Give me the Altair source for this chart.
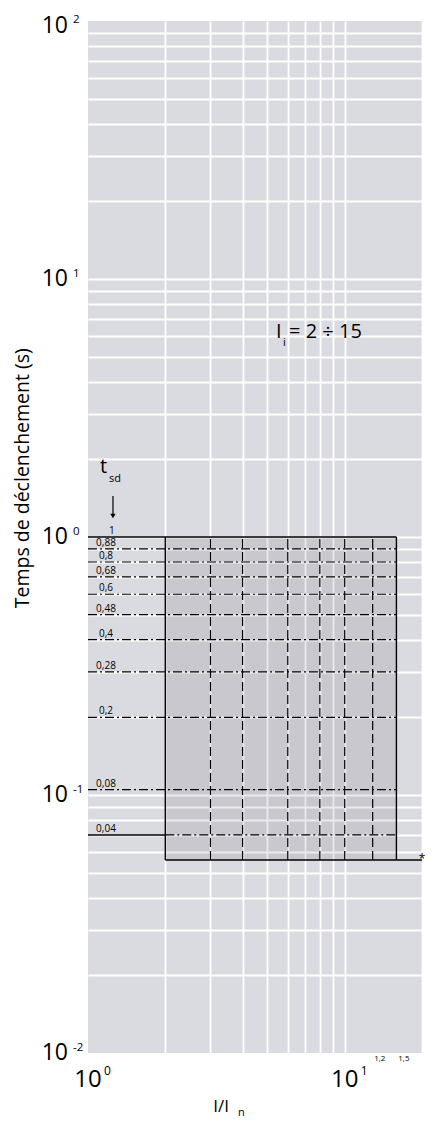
import altair as alt
import pandas as pd

# ---- data ----
x_grid = [2, 3, 4, 5, 6, 7, 8, 9, 10, 20]
y_grid = [0.02, 0.03, 0.04, 0.05, 0.06, 0.07, 0.08, 0.09, 0.1,
          0.2, 0.3, 0.4, 0.5, 0.6, 0.7, 0.8, 0.9, 1,
          2, 3, 4, 5, 6, 7, 8, 9, 10,
          20, 30, 40, 50, 60, 70, 80, 90]

tsd_values = [0.9, 0.8, 0.7, 0.6, 0.5, 0.4, 0.3, 0.2, 0.105, 0.07]
tsd_labels = ["0,88", "0,8", "0,68", "0,6", "0,48", "0,4", "0,28", "0,2", "0,08", "0,04"]
ii_values = [3, 4, 6, 8, 10, 12.85]

box_x = [2, 15.9]
box_y = [0.056, 1.0]
x_min, x_max = 1, 20
y_min, y_max = 0.01, 100

# positions of the "10^k" labels on the y side (top one sits just inside the page)
y_label_pos = [96, 10, 1, 0.1, 0.01]
y_exps = ["2", "1", "0", "-1", "-2"]
x_decades = [1, 10]
x_exps = ["0", "1"]

FONT = "Open Sans"

xs = alt.Scale(type="log", domain=[x_min, x_max], nice=False)
ys = alt.Scale(type="log", domain=[y_min, y_max], nice=False)
xax = alt.Axis(values=x_grid, grid=True, gridColor="white", gridWidth=1.8, gridOpacity=1,
               labels=False, ticks=False, domain=False)
yax = alt.Axis(values=y_grid, grid=True, gridColor="white", gridWidth=1.8, gridOpacity=1,
               labels=False, ticks=False, domain=False)


def X(f="x"):
    return alt.X(f"{f}:Q", scale=xs, axis=xax, title=None)


def Y(f="y"):
    return alt.Y(f"{f}:Q", scale=ys, axis=yax, title=None)


# box
box = alt.Chart(pd.DataFrame({"x": [box_x[0]], "x2": [box_x[1]], "y": [box_y[0]], "y2": [box_y[1]]})).mark_rect(
    color="#2a1030", opacity=0.09).encode(x=X(), x2="x2:Q", y=Y(), y2="y2:Q")

# solid segments
solid_df = pd.DataFrame([
    {"x": x_min, "x2": box_x[1], "y": box_y[1], "y2": box_y[1]},   # top line y=1
    {"x": box_x[0], "x2": x_max, "y": box_y[0], "y2": box_y[0]},   # bottom line
    {"x": x_min, "x2": box_x[0], "y": tsd_values[-1], "y2": tsd_values[-1]},  # 0,04 left part
    {"x": box_x[0], "x2": box_x[0], "y": box_y[0], "y2": box_y[1]},  # left edge
    {"x": box_x[1], "x2": box_x[1], "y": box_y[0], "y2": box_y[1]},  # right edge
])
solid = alt.Chart(solid_df).mark_rule(color="black", strokeWidth=1.4).encode(
    x=X(), x2="x2:Q", y=Y(), y2="y2:Q")

# dash-dot horizontal lines
dd_rows = []
for v in tsd_values[:-1]:
    dd_rows.append({"x": x_min, "x2": box_x[1], "y": v})
dd_rows.append({"x": box_x[0], "x2": box_x[1], "y": tsd_values[-1]})
dashdot = alt.Chart(pd.DataFrame(dd_rows)).mark_rule(
    color="black", strokeWidth=1.2, strokeDash=[9, 3, 2, 3]).encode(x=X(), x2="x2:Q", y=Y())

# dashed vertical lines
dv = pd.DataFrame({"x": ii_values, "y": [box_y[0]] * len(ii_values), "y2": [box_y[1]] * len(ii_values)})
dashed = alt.Chart(dv).mark_rule(color="black", strokeWidth=1.2, strokeDash=[9, 4]).encode(
    x=X(), y=Y(), y2="y2:Q")

# tsd labels
tl = pd.DataFrame({"x": [1.24] + [1.175] * len(tsd_labels), "y": [1.0] + tsd_values,
                   "t": ["1"] + tsd_labels})
tsd_text = alt.Chart(tl).mark_text(font=FONT, fontSize=10, align="center", baseline="alphabetic",
                                   dy=-3, color="black").encode(x=X(), y=Y(), text="t:N")

# t_sd marker
t_big = alt.Chart(pd.DataFrame({"x": [1.114], "y": [1.77], "t": ["t"]})).mark_text(
    font=FONT, fontSize=20, align="left", baseline="alphabetic").encode(x=X(), y=Y(), text="t:N")
t_sub = alt.Chart(pd.DataFrame({"x": [1.207], "y": [1.638], "t": ["sd"]})).mark_text(
    font=FONT, fontSize=11, align="left", baseline="alphabetic").encode(x=X(), y=Y(), text="t:N")
arrow_line = alt.Chart(pd.DataFrame({"x": [1.251], "y": [1.442], "y2": [1.22]})).mark_rule(
    color="black", strokeWidth=1.2).encode(x=X(), y=Y(), y2="y2:Q")
arrow_head = alt.Chart(pd.DataFrame({"x": [1.251], "y": [1.206]})).mark_point(
    shape="triangle-down", filled=True, color="black", size=28, opacity=1).encode(x=X(), y=Y())

# Ii label
ii_I = alt.Chart(pd.DataFrame({"x": [5.40], "y": [5.91], "t": ["I"]})).mark_text(
    font=FONT, fontSize=20, align="left", baseline="alphabetic").encode(x=X(), y=Y(), text="t:N")
ii_i = alt.Chart(pd.DataFrame({"x": [5.75], "y": [5.50], "t": ["i"]})).mark_text(
    font=FONT, fontSize=11, align="left", baseline="alphabetic").encode(x=X(), y=Y(), text="t:N")
ii_rest = alt.Chart(pd.DataFrame({"x": [6.07], "y": [5.91], "t": ["= 2 ÷ 15"]})).mark_text(
    font=FONT, fontSize=20, align="left", baseline="alphabetic").encode(x=X(), y=Y(), text="t:N")

# axis labels (10^k)
ylab = pd.DataFrame({"x": [0.836] * 5, "y": y_label_pos, "t": ["10"] * 5})
ylab_t = alt.Chart(ylab).mark_text(font=FONT, fontSize=23, align="right", baseline="middle").encode(
    x=X(), y=Y(), text="t:N")
yexp = pd.DataFrame({"x": [0.874] * 5, "y": y_label_pos, "t": y_exps})
yexp_t = alt.Chart(yexp).mark_text(font=FONT, fontSize=11.5, align="left", baseline="middle", dy=-5.5).encode(
    x=X(), y=Y(), text="t:N")
xlab = pd.DataFrame({"x": x_decades, "y": [0.00786] * 2, "t": ["10"] * 2})
xlab_t = alt.Chart(xlab).mark_text(font=FONT, fontSize=24, align="center", baseline="middle").encode(
    x=X(), y=Y(), text="t:N")
xexp = pd.DataFrame({"x": [1.154, 11.54], "y": [0.00851] * 2, "t": x_exps})
xexp_t = alt.Chart(xexp).mark_text(font=FONT, fontSize=12, align="left", baseline="middle").encode(
    x=X(), y=Y(), text="t:N")

# small 1,2 / 1,5 marks and *
small = pd.DataFrame({"x": [13.7, 17.0], "y": [0.0093] * 2, "t": ["1,2", "1,5"]})
small_t = alt.Chart(small).mark_text(font=FONT, fontSize=8, align="center", baseline="alphabetic").encode(
    x=X(), y=Y(), text="t:N")
star = alt.Chart(pd.DataFrame({"x": [20.0], "y": [0.0566], "t": ["*"]})).mark_text(
    font=FONT, fontSize=12, align="center", baseline="middle").encode(x=X(), y=Y(), text="t:N")

# titles
xt1 = alt.Chart(pd.DataFrame({"x": [3.30], "y": [0.00591], "t": ["I/I"]})).mark_text(
    font=FONT, fontSize=17, align="center", baseline="alphabetic").encode(x=X(), y=Y(), text="t:N")
xt2 = alt.Chart(pd.DataFrame({"x": [3.84], "y": [0.00570], "t": ["n"]})).mark_text(
    font=FONT, fontSize=11, align="left", baseline="alphabetic").encode(x=X(), y=Y(), text="t:N")
yt = alt.Chart(pd.DataFrame({"x": [0.56], "y": [1.69], "t": ["Temps de déclenchement (s)"]})).mark_text(
    font=FONT, fontSize=19.5, align="center", baseline="middle", angle=270).encode(x=X(), y=Y(), text="t:N")

chart = alt.layer(
    box, dashdot, dashed, solid, tsd_text, t_big, t_sub, arrow_line, arrow_head,
    ii_I, ii_i, ii_rest, ylab_t, yexp_t, xlab_t, xexp_t, small_t, star, xt1, xt2, yt
).properties(
    width=334, height=1032,
    autosize=alt.AutoSizeParams(type="none"),
    padding={"left": 80, "top": 13, "right": 4, "bottom": 65},
    background="white",
).configure_view(fill="#dadbe0", strokeWidth=0)

chart.save("out.html", embed_options={"renderer": "svg", "actions": False})
